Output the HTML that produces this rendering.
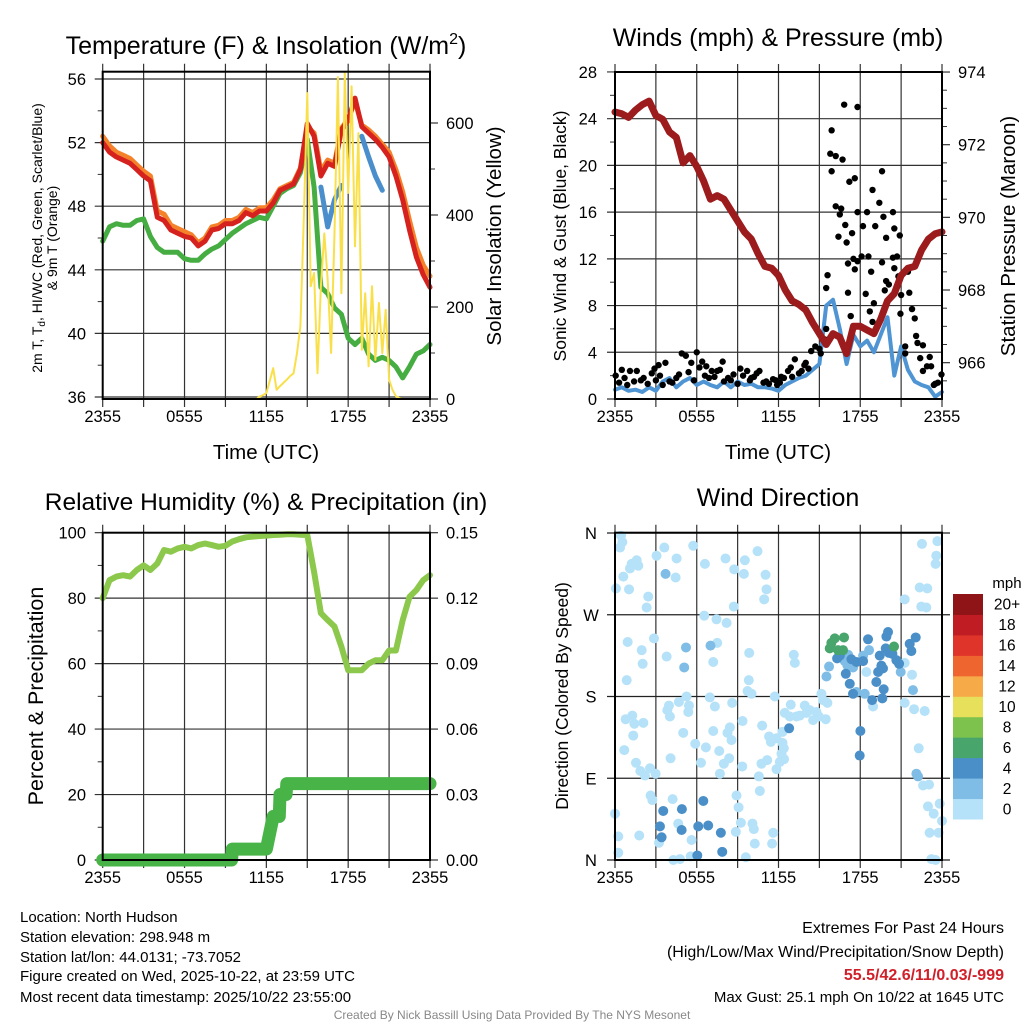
<!DOCTYPE html>
<html><head><meta charset="utf-8"><style>
html,body{margin:0;padding:0;background:#fff;}
svg{display:block;font-family:"Liberation Sans",Arial,sans-serif;}
</style></head><body>
<svg id="s" width="1024" height="1024" viewBox="0 0 1024 1024" xmlns="http://www.w3.org/2000/svg">
<rect width="1024" height="1024" fill="#fff"/>
<g id="p1"></g>
<g id="p2"></g>
<g id="p3"></g>
<g id="p4"></g>
<text x="266" y="54" font-size="25" text-anchor="middle">Temperature (F) &amp; Insolation (W/m<tspan dy="-10" font-size="16">2</tspan><tspan dy="10">)</tspan></text>
<text x="778" y="46" font-size="25" text-anchor="middle">Winds (mph) &amp; Pressure (mb)</text>
<text x="266" y="510" font-size="24.5" text-anchor="middle">Relative Humidity (%) &amp; Precipitation (in)</text>
<text x="778" y="506" font-size="25" text-anchor="middle">Wind Direction</text>
<text transform="translate(42,238) rotate(-90)" font-size="14" text-anchor="middle">2m T, T<tspan dy="3" font-size="10">d</tspan><tspan dy="-3">, HI/WC (Red, Green, Scarlet/Blue)</tspan></text>
<text transform="translate(57,238) rotate(-90)" font-size="14" text-anchor="middle">&amp; 9m T (Orange)</text>
<text transform="translate(501,236) rotate(-90)" font-size="20.5" text-anchor="middle">Solar Insolation (Yellow)</text>
<text transform="translate(566,236) rotate(-90)" font-size="17.5" text-anchor="middle">Sonic Wind &amp; Gust (Blue, Black)</text>
<text transform="translate(1015,236) rotate(-90)" font-size="20.5" text-anchor="middle">Station Pressure (Maroon)</text>
<text transform="translate(43,696) rotate(-90)" font-size="21.5" text-anchor="middle">Percent &amp; Precipitation</text>
<text transform="translate(568,696) rotate(-90)" font-size="17.5" text-anchor="middle">Direction (Colored By Speed)</text>
<text x="266" y="459" font-size="20.5" text-anchor="middle">Time (UTC)</text>
<text x="778" y="459" font-size="20.5" text-anchor="middle">Time (UTC)</text>
<g font-size="15">
<text x="20" y="922">Location: North Hudson</text>
<text x="20" y="942">Station elevation: 298.948 m</text>
<text x="20" y="962">Station lat/lon: 44.0131; -73.7052</text>
<text x="20" y="981">Figure created on Wed, 2025-10-22, at 23:59 UTC</text>
<text x="20" y="1002">Most recent data timestamp: 2025/10/22 23:55:00</text>
</g>
<g font-size="15" text-anchor="end">
<text x="1004" y="933" font-size="16">Extremes For Past 24 Hours</text>
<text x="1004" y="957" font-size="16">(High/Low/Max Wind/Precipitation/Snow Depth)</text>
<text x="1004" y="980" font-size="16" font-weight="bold" fill="#d0202a">55.5/42.6/11/0.03/-999</text>
<text x="1004" y="1002" font-size="15">Max Gust: 25.1 mph On 10/22 at 1645 UTC</text>
</g>
<text x="512" y="1019" font-size="12" fill="#888" text-anchor="middle">Created By Nick Bassill Using Data Provided By The NYS Mesonet</text>
</svg>
<script>
// ---- data (half-hourly, 0..24 h) ----
const redT=[52,51.4,51.1,50.9,50.7,50.3,49.9,49.6,47.3,47.1,46.5,46.3,46.1,46.0,45.5,45.8,46.5,46.6,46.9,46.9,47.1,47.6,47.4,47.7,47.7,48.2,49.0,49.2,49.4,50.3,53.2,52.4,49.9,50.7,50.5,52.8,53.4,54.8,53.0,52.6,52.2,51.7,51.1,49.9,48.4,46.5,44.8,43.7,42.9];
const orangeT=[52.4,51.8,51.4,51.2,51.0,50.6,50.2,49.9,47.7,47.5,46.8,46.6,46.4,46.2,45.7,46.0,46.7,46.8,47.1,47.1,47.3,47.8,47.6,47.9,47.9,48.4,49.1,49.3,49.5,50.4,53.0,52.6,50.2,50.9,50.7,52.9,53.5,54.6,53.1,52.8,52.4,51.9,51.4,50.3,48.9,47.1,45.4,44.3,43.6];
const greenTd=[45.8,46.7,46.9,46.8,46.8,47.1,47.2,46.1,45.4,45.1,45.1,45.1,44.7,44.6,44.6,45.0,45.3,45.5,45.9,46.3,46.6,46.9,47.1,47.3,47.2,48.0,48.8,49.1,49.3,50.1,52.2,49.2,42.9,42.5,41.6,41.2,39.7,39.3,39.7,38.7,38.3,38.5,38.3,37.9,37.2,37.9,38.7,38.9,39.3];
const blueHI=[null,null,null,null,null,null,null,null,null,null,null,null,null,null,null,null,null,null,null,null,null,null,null,null,null,null,null,null,null,null,null,null,49.2,46.7,48.4,49.3,null,null,52.4,51.1,49.9,49.0,null,null,null,null,null,null,null];
// quarter-hourly insolation 0..24 h (97 values)
const solar=[0,0,0,0,0,0,0,0,0,0,0,0,0,0,0,0,0,0,0,0,0,0,0,0,0,0,0,0,0,0,0,0,0,0,0,0,0,0,0,0,0,0,0,0,0,0,5,8,13,40,67,20,28,35,42,50,56,100,158,400,665,245,274,56,245,360,259,100,360,700,230,709,448,680,332,578,107,230,71,245,85,209,100,194,42,20,6,2,0,0,0,0,0,0,0,0,0];
const windS=[0.8,1.0,0.7,0.8,0.6,1.0,0.7,1.5,1.8,1.0,1.5,1.8,1.2,1.5,1.2,1.0,1.5,1.0,1.5,1.2,1.3,1.0,1.0,0.9,0.7,1.2,1.5,1.8,2.0,2.5,3.0,8.0,8.5,6.0,3.0,5.5,4.5,5.0,4.0,5.5,7.0,2.0,4.5,2.5,1.5,1.2,1.0,0.2,0.6];
const pressure=[972.9,972.85,972.75,972.95,973.1,973.2,972.8,972.7,972.35,972.2,971.5,971.7,971.4,971.0,970.5,970.6,970.5,970.2,969.9,969.6,969.4,969.0,968.65,968.6,968.4,968.0,967.7,967.6,967.45,967.1,966.8,966.5,966.8,966.7,966.25,967.0,967.0,966.9,966.8,967.2,967.7,967.9,968.4,968.6,968.65,969.1,969.4,969.55,969.6];
const gustH=[0.05,0.5,1.1,1.6,2.1,2.7,3.2,3.7,4.5,4.9,5.2,5.6,6.0,6.4,6.7,7.1,7.5,7.9,8.3,8.7,9.2,9.7,10.2,10.6,11.1,11.6,12.1,12.7,13.2,13.7,14.0,14.4,14.7,15.0,15.4,15.1,0.3,0.9,1.4,2.4,3.0,3.5,4.2,5.8,6.9,8.0,9.0,9.9,10.9,11.9,12.4,13.0,13.5,0.7,1.9,2.9,3.3,4.0,4.7,5.4,6.2,6.6,7.3,7.7,8.5,9.4,10.0,10.4,11.3,11.8,12.2,12.9,13.9,14.2,
16.82,17.8,15.9,15.8,16.2,16.7,15.9,19.6,17.6,17.2,18.9,16.2,16.6,19.4,20.4,17.8,18.5,19.7,16.5,16.9,18.2,19.1,20.5,16.4,17.4,17.0,19.9,20.9,18.1,18.6,17.5,17.8,20.4,20.7,17.1,17.6,19.6,18.8,20.5,20.8,21.5,15.6,15.5,19.9,20.1,19.8,17.1,18.4,21.6,21.0,19.0,18.7,21.8,17.3,20.95,18.9,22.0,15.5,22.1,22.2,22.6,21.3,22.4,21.3,23.1,22.6,22.9,23.2,23.96,23.7,23.4,23.5];
const gustV=[2.0,2.5,2.4,2.4,1.8,2.2,2.9,3.1,1.8,3.9,3.7,3.1,4.0,3.2,2.8,2.4,2.4,3.2,1.8,2.1,2.6,2.4,1.9,2.4,1.5,1.7,1.4,2.4,3.4,2.4,3.1,4.1,4.5,4.3,5.1,3.9,1.4,1.2,1.5,1.3,1.6,1.2,1.4,1.6,1.8,1.5,1.3,1.6,1.4,1.2,1.8,1.9,2.2,1.8,1.6,2.6,2.0,1.5,2.1,2.3,2.7,2.0,1.9,2.5,1.6,2.0,1.8,2.2,1.3,1.6,1.9,2.7,2.9,2.6,
25.2,25.0,23.0,21.0,20.8,20.5,19.5,19.5,18.9,18.6,17.9,16.5,16.3,16.8,16.0,16.0,16.0,15.6,15.8,14.9,14.8,14.8,14.6,13.9,14.2,13.4,13.8,14.0,12.2,12.2,12.0,11.8,12.1,12.2,11.6,11.1,11.7,10.9,11.2,10.5,10.9,10.6,9.5,10.1,9.8,9.3,9.1,9.0,9.1,8.9,8.2,7.5,7.7,7.1,7.3,6.6,6.9,6.0,5.4,4.8,4.6,4.5,3.5,3.9,3.6,2.4,2.8,2.8,2.1,1.4,1.2,1.3];
const rh=[80,85.5,86.6,87,86.6,88.6,90,88.6,90.6,94.7,94.2,95.2,95.7,95.2,96.2,96.7,96.2,95.7,96,97.3,98,98.6,98.8,99,99.1,99.3,99.4,99.5,99.5,99.4,99.3,88,75.4,73.3,71.3,65.2,58,58,58,60,61,61,64,64,73.3,80.4,82.5,85.5,87];
const precip=[0,0,0,0,0,0,0,0,0,0,0,0,0,0,0,0,0,0,0,0.005,0.005,0.005,0.005,0.005,0.005,0.02,0.03,0.035,0.035,0.035,0.035,0.035,0.035,0.035,0.035,0.035,0.035,0.035,0.035,0.035,0.035,0.035,0.035,0.035,0.035,0.035,0.035,0.035,0.035];
const dirH=[0.44,0.54,0.37,0.07,0.61,1.03,1.10,1.22,1.59,1.71,2.44,2.32,3.05,3.62,4.52,4.45,5.74,6.60,8.11,8.75,9.53,9.46,10.46,11.05,11.12,10.95,6.55,7.45,8.19,8.72,2.86,0.93,1.96,2.03,3.79,0.86,7.50,7.21,9.85,13.12,13.20,9.82,9.73,10.02,11.73,5.25,6.96,4.69,3.96,3.84,4.03,5.38,5.43,7.33,8.60,0.78,1.27,1.42,2.08,1.34,5.01,5.89,6.67,7.21,8.26,8.43,8.55,9.36,10.80,11.31,11.44,11.85,12.29,12.39,12.22,0.68,1.54,1.86,2.20,2.57,2.98,4.08,6.31,7.65,7.99,8.38,9.34,7.70,10.75,11.17,11.85,12.10,12.41,10.56,10.63,2.61,2.74,4.23,8.92,9.07,9.24,8.87,10.09,10.19,11.61,11.53,10.26,5.62,4.64,3.23,1.78,0.24,0.24,0.0,4.28,4.77,5.55,9.60,12.46,12.83,13.32,12.90,21.26,22.36,22.92,22.48,22.85,22.53,23.66,23.58,23.53,22.73,21.26,21.95,22.29,22.61,23.05,22.97,23.39,23.83,24.0,23.09,23.75,23.22,23.53,15.47,15.59,15.15,15.27,12.29,
14.30,14.54,14.78,14.96,13.93,14.05,13.56,18.45,18.94,21.26,21.80,21.87,20.97,17.72,18.33,15.52,22.12,22.24,
3.71,5.21,7.01,5.08,15.71,17.11,16.86,17.06,17.47,18.21,18.65,19.43,19.31,19.18,19.72,19.62,19.92,20.04,19.87,20.11,20.65,21.63,21.75,22.07,18.87,18.01,17.96,17.47,17.23,3.54,3.30,3.42,4.91,4.89,6.11,6.84,6.48,7.77,7.87,6.04,12.78,
16.30,16.50,17.35,17.72,18.21,18.57,19.55,19.67,20.85,20.36,16.94,16.37,
16.13,16.81,15.76,16.74,20.48,15.88];
const dirD=[357,350,344,299,312,298,321,326,330,324,290,278,335,344,332,311,346,326,332,320,330,315,340,314,298,287,269,265,261,279,244,240,231,216,224,198,239,218,228,226,217,198,186,183,180,180,179,174,170,165,158,163,170,169,173,155,159,150,151,137,140,128,124,142,140,146,132,153,148,136,130,134,141,123,117,121,107,98,93,101,95,112,107,120,106,112,103,95,106,110,100,108,111,92,76,71,66,67,71,58,41,31,40,34,30,18,18,22,40,19,27,26,8,51,0,1,4,3,162,158,158,171,287,300,299,279,278,348,351,335,326,164,173,166,123,82,83,59,51,62,43,30,30,1,0,155,173,183,176,129,
165,154,163,158,170,162,159,207,169,217,204,187,207,185,183,202,95,92,
315,234,236,212,213,226,219,214,212,225,231,225,207,196,188,178,246,251,233,228,220,238,230,245,176,142,115,183,194,54,37,25,56,33,37,38,65,30,9,5,145,
222,225,221,218,219,243,214,211,216,227,205,231,
244,245,233,231,235,239];
const dirSpeed=[];
for(let i=0;i<161;i++)dirSpeed.push(1);
for(let i=0;i<18;i++)dirSpeed.push(3);
for(let i=0;i<41;i++)dirSpeed.push(5);
for(let i=0;i<12;i++)dirSpeed.push(7);
for(let i=0;i<5;i++)dirSpeed.push(9);
dirSpeed.push(11);
const timeTicks=["2355","0555","1155","1755","2355"];
const tempTicks=[36,40,44,48,52,56];
const solarTicks=[0,200,400,600];
const windTicks=[0,4,8,12,16,20,24,28];
const presTicks=[966,968,970,972,974];
const rhTicks=[0,20,40,60,80,100];
const precipTicks=["0.00","0.03","0.06","0.09","0.12","0.15"];
const dirTicks=["N","E","S","W","N"];
const cbLabels=["0","2","4","6","8","10","12","14","16","18","20+"];
const cbColors=["#b5e2f8","#80bde6","#4a8fc8","#48a56c","#7cc24c","#e6e05a","#f6aa48","#ef6530","#df3429","#bf1c24","#8e1418"];

const NS="http://www.w3.org/2000/svg";
function mk(parent,tag,attrs){const e=document.createElementNS(NS,tag);for(const k in attrs)e.setAttribute(k,attrs[k]);parent.appendChild(e);return e;}
function line(parent,x1,y1,x2,y2,c,w){return mk(parent,'line',{x1:x1,y1:y1,x2:x2,y2:y2,stroke:c,'stroke-width':w});}
function txt(parent,x,y,s,size,anchor){const t=mk(parent,'text',{x:x,y:y,'font-size':size,'text-anchor':anchor});t.textContent=s;return t;}

function frame(g,L,R,T,B,xs){
  for(let h=0;h<=24;h+=3){const x=xs(h);
    const gl=line(g,x,T-8,x,B+8,'#333',1.2);
    
    }
  for(let i=0;i<timeTicks.length;i++){const t=txt(g,xs(i*6),B+23,timeTicks[i],16.5,'middle');
    
    }
}
function box(g,L,R,T,B){const r=mk(g,'rect',{x:L,y:T,width:R-L,height:B-T,fill:'none',stroke:'#000','stroke-width':2});
  
  }
function pathFrom(xsArr,ysArr){let d='',pen=false;for(let i=0;i<xsArr.length;i++){if(ysArr[i]==null||isNaN(ysArr[i])){pen=false;continue;}d+=(pen?'L':'M')+xsArr[i].toFixed(1)+' '+ysArr[i].toFixed(1);pen=true;}return d;}
function series(g,vals,step,xs,ys,color,w,name){
  const X=vals.map((v,i)=>xs(i*step)),Y=vals.map(v=>v==null?null:ys(v));
  const p=mk(g,'path',{d:pathFrom(X,Y),fill:'none',stroke:color,'stroke-width':w,'stroke-linejoin':'round','stroke-linecap':'round'});
  
  
  return p;}

// ---- Panel 1 ----
(function(){const g=document.getElementById('p1');
const L=102.7,R=430,T=71.7,B=399;
const xs=h=>L+h*(R-L)/24, yT=t=>397-(t-36)*15.9, yS=w=>399-w*0.46;
frame(g,L,R,T,B,xs);
for(const t of tempTicks){const y=yT(t);const gl=line(g,L-8,y,R,y,'#333',1.2);
  
  
  const lb=txt(g,86,y+6,String(t),16.5,'end');
  
  }
for(let t=38;t<56;t+=4){line(g,L-5,yT(t),L,yT(t),'#333',1);}
for(const w of solarTicks){const y=yS(w);line(g,R,y,R+8,y,'#333',1.2);
  const lb=txt(g,446,y+6,String(w),16.5,'start');
  
  }
for(let w=100;w<700;w+=200){line(g,R,yS(w),R+5,yS(w),'#333',1);}
series(g,greenTd,0.5,xs,yT,'#45ad42',5,'dewpoint-line');
series(g,orangeT,0.5,xs,yT,'#f4822b',5,'9m-temperature-line');
series(g,redT,0.5,xs,yT,'#d6221f',5,'2m-temperature-line');
series(g,blueHI,0.5,xs,yT,'#4a8fcc',5,'wind-chill-line');
series(g,solar,0.25,xs,yS,'#f9e04b',2,'insolation-line');
box(g,L,R,T,B);})();

// ---- Panel 2 ----
(function(){const g=document.getElementById('p2');
const L=615,R=942,T=72,B=399;
const xs=h=>L+h*(R-L)/24, yW=s=>399-s*11.68, yP=p=>399-(p-965)*36.33;
frame(g,L,R,T,B,xs);
for(const s of windTicks){const y=yW(s);const gl=line(g,L-8,y,R,y,'#333',1.2);
  
  
  const lb=txt(g,597,y+6,String(s),16.5,'end');
  
  }
for(let s=2;s<28;s+=4){line(g,L-5,yW(s),L,yW(s),'#333',1);}
for(const p of presTicks){const y=yP(p);line(g,R,y,R+8,y,'#333',1.2);
  const lb=txt(g,958,y+6,String(p),16.5,'start');
  
  }
for(let p=965.5;p<974;p+=0.5){if(p%2!==0)line(g,R,yP(p),R+5,yP(p),'#333',1);}
series(g,windS,0.5,xs,yW,'#4f95d3',4,'sonic-wind-line');
for(let i=0;i<gustH.length;i++){const c=mk(g,'circle',{cx:xs(gustH[i]),cy:yW(gustV[i]),r:3.2,fill:'#000'});
  
  }
series(g,pressure,0.5,xs,yP,'#9c1b1d',7,'pressure-line');
box(g,L,R,T,B);})();

// ---- Panel 3 ----
(function(){const g=document.getElementById('p3');
const L=102.7,R=430,T=532.7,B=860;
const xs=h=>L+h*(R-L)/24, yR=r=>860-r*3.273, yPr=p=>yR(p/0.15*100);
frame(g,L,R,T,B,xs);
for(const r of rhTicks){const y=yR(r);const gl=line(g,L-8,y,R,y,'#333',1.2);
  
  
  const lb=txt(g,86,y+6,String(r),16.5,'end');
  
  }
for(let r=10;r<100;r+=20){line(g,L-5,yR(r),L,yR(r),'#333',1);}
for(let i=0;i<precipTicks.length;i++){const y=yPr(parseFloat(precipTicks[i]));line(g,R,y,R+8,y,'#333',1.2);
  const lb=txt(g,446,y+6,precipTicks[i],16.5,'start');
  
  }
series(g,rh,0.5,xs,yR,'#8cc84b',6,'humidity-line');
let d='';for(let i=0;i<precip.length;i++){const x=xs(i*0.5),y=yPr(precip[i]);d+=(i?'L':'M')+x.toFixed(1)+' '+y.toFixed(1);if(i<precip.length-1&&precip[i+1]!==precip[i]&&precip[i+1]-precip[i]<0.01)d+='L'+xs(i*0.5+0.45).toFixed(1)+' '+y.toFixed(1);}
const pp=mk(g,'path',{d:d,fill:'none',stroke:'#48b448','stroke-width':13,'stroke-linecap':'round','stroke-linejoin':'round'});


box(g,L,R,T,B);})();

// ---- Panel 4 ----
(function(){const g=document.getElementById('p4');
const L=615,R=942,T=532.7,B=860;
const xs=h=>L+h*(R-L)/24, yD=d=>860-d*0.9083;
frame(g,L,R,T,B,xs);
for(let i=0;i<dirTicks.length;i++){const y=yD(i*90);const gl=line(g,L-8,y,R+8,y,'#222',1.2);
  
  
  const lb=txt(g,591,y+6,dirTicks[i],16.5,'middle');
  
  }
for(let i=0;i<dirH.length;i++){const bin=Math.min(10,Math.floor(dirSpeed[i]/2));
  const c=mk(g,'circle',{cx:xs(dirH[i]),cy:yD(dirD[i]),r:5,fill:cbColors[bin]});
  
  }
const cbT=594,cbB=819,h=(cbB-cbT)/11;
const mph=txt(g,1007,588,'mph',15,'middle');


for(let i=0;i<11;i++){const y=cbB-(i+1)*h;
  const r=mk(g,'rect',{x:953,y:y,width:30,height:h+0.5,fill:cbColors[i]});
  
  
  const lb=txt(g,1007,y+h/2+5.5,cbLabels[i],15.5,'middle');
  
  }
box(g,L,R,T,B);})();
</script>
</body></html>
